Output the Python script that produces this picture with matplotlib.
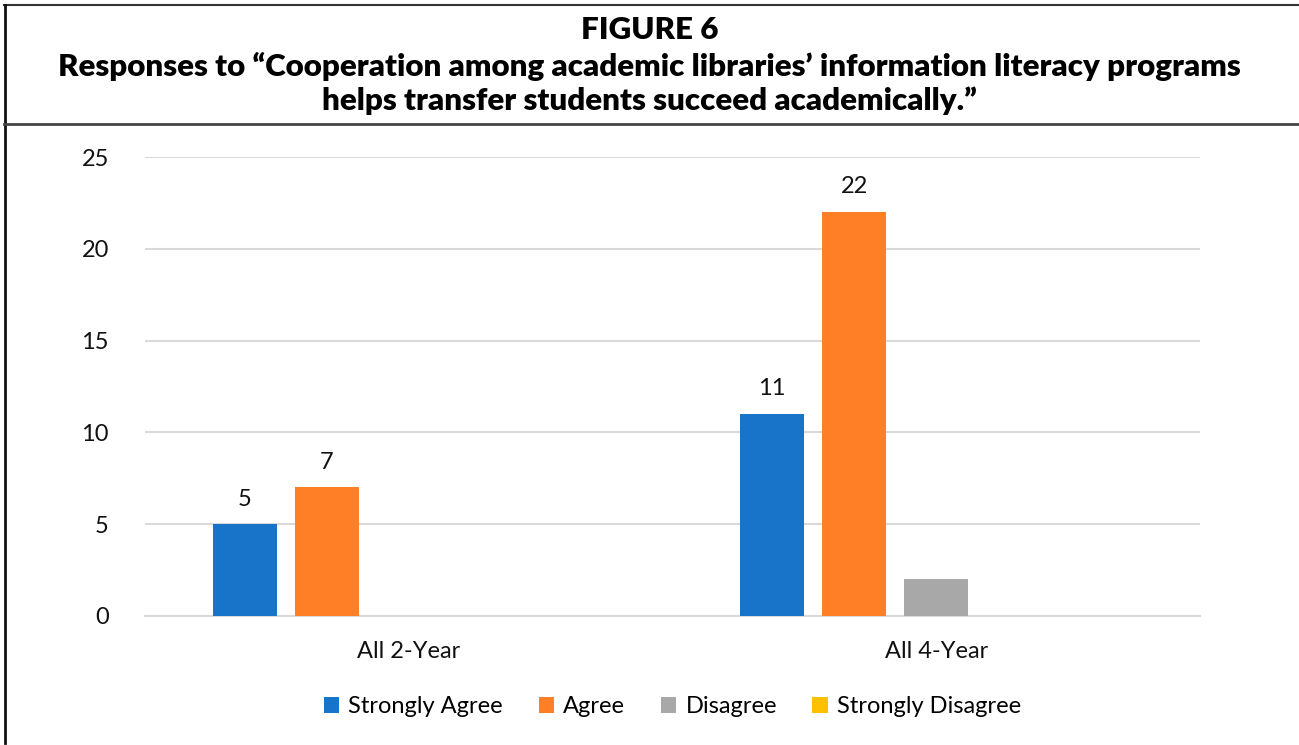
import numpy as np
import matplotlib.pyplot as plt
from matplotlib.lines import Line2D

groups = ["All 2-Year", "All 4-Year"]
series = ["Strongly Agree", "Agree", "Disagree", "Strongly Disagree"]
strongly_agree = [5, 11]
agree = [7, 22]
disagree = [0, 2]
strongly_disagree = [0, 0]
colors = ["#1874C8", "#FF7F27", "#A8A8A8", "#FFC000"]

W, H = 1299, 745
fig = plt.figure(figsize=(W / 100, H / 100), dpi=100)
plt.rcParams['font.family'] = ['Lato', 'DejaVu Sans']

# frame lines
fig.add_artist(Line2D([4 / W, 1], [1 - 5 / H, 1 - 5 / H], color="#333333", lw=1.5))
fig.add_artist(Line2D([5 / W, 5 / W], [1 - 5 / H, 2 / H], color="#111111", lw=2))
fig.add_artist(Line2D([4 / W, 1], [1 - 124 / H, 1 - 124 / H], color="#444444", lw=2))

fig.text(0.5, 1 - 30 / H, "FIGURE 6", ha="center", va="center", fontsize=22.5, fontweight="heavy")
fig.text(0.5, 1 - 66 / H, "Responses to \u201cCooperation among academic libraries\u2019 information literacy programs",
         ha="center", va="center", fontsize=22.5, fontweight="heavy")
fig.text(0.5, 1 - 101 / H, "helps transfer students succeed academically.\u201d",
         ha="center", va="center", fontsize=22.5, fontweight="heavy")

ax = fig.add_axes([145 / W, 1 - 616 / H, 1055 / W, 459 / H])
x = np.arange(len(groups))
step = 0.1555
width = 0.121
vals = [strongly_agree, agree, disagree, strongly_disagree]
for i, (name, v) in enumerate(zip(series, vals)):
    bars = ax.bar(x + (i - 2) * step, v, width, color=colors[i], label=name, zorder=3)
    if name in ("Strongly Agree", "Agree"):
        for b, val in zip(bars, v):
            ax.text(b.get_x() + b.get_width() / 2, val + 0.8, str(val), ha="center", va="bottom",
                    fontsize=17, color="#111111")

ax.set_xlim(-0.5, 1.5)
ax.set_ylim(0, 25)
ax.set_yticks([0, 5, 10, 15, 20, 25])
ax.set_xticks(x)
ax.set_xticklabels(groups)
ax.grid(axis="y", color="#D9D9D9", lw=1.5, zorder=0)
for s in ["top", "right", "left"]:
    ax.spines[s].set_visible(False)
ax.spines["bottom"].set_color("#D9D9D9")
ax.spines["bottom"].set_linewidth(1.5)
ax.tick_params(axis="both", length=0, labelsize=17, colors="#111111")
ax.tick_params(axis="y", pad=26)
ax.tick_params(axis="x", pad=18)

ax.legend(loc="center", bbox_to_anchor=(0.5, -0.198), ncol=4, frameon=False, fontsize=17,
          handlelength=0.65, handleheight=0.65, handletextpad=0.4, columnspacing=1.5)

fig.savefig("out.png", dpi=100)
